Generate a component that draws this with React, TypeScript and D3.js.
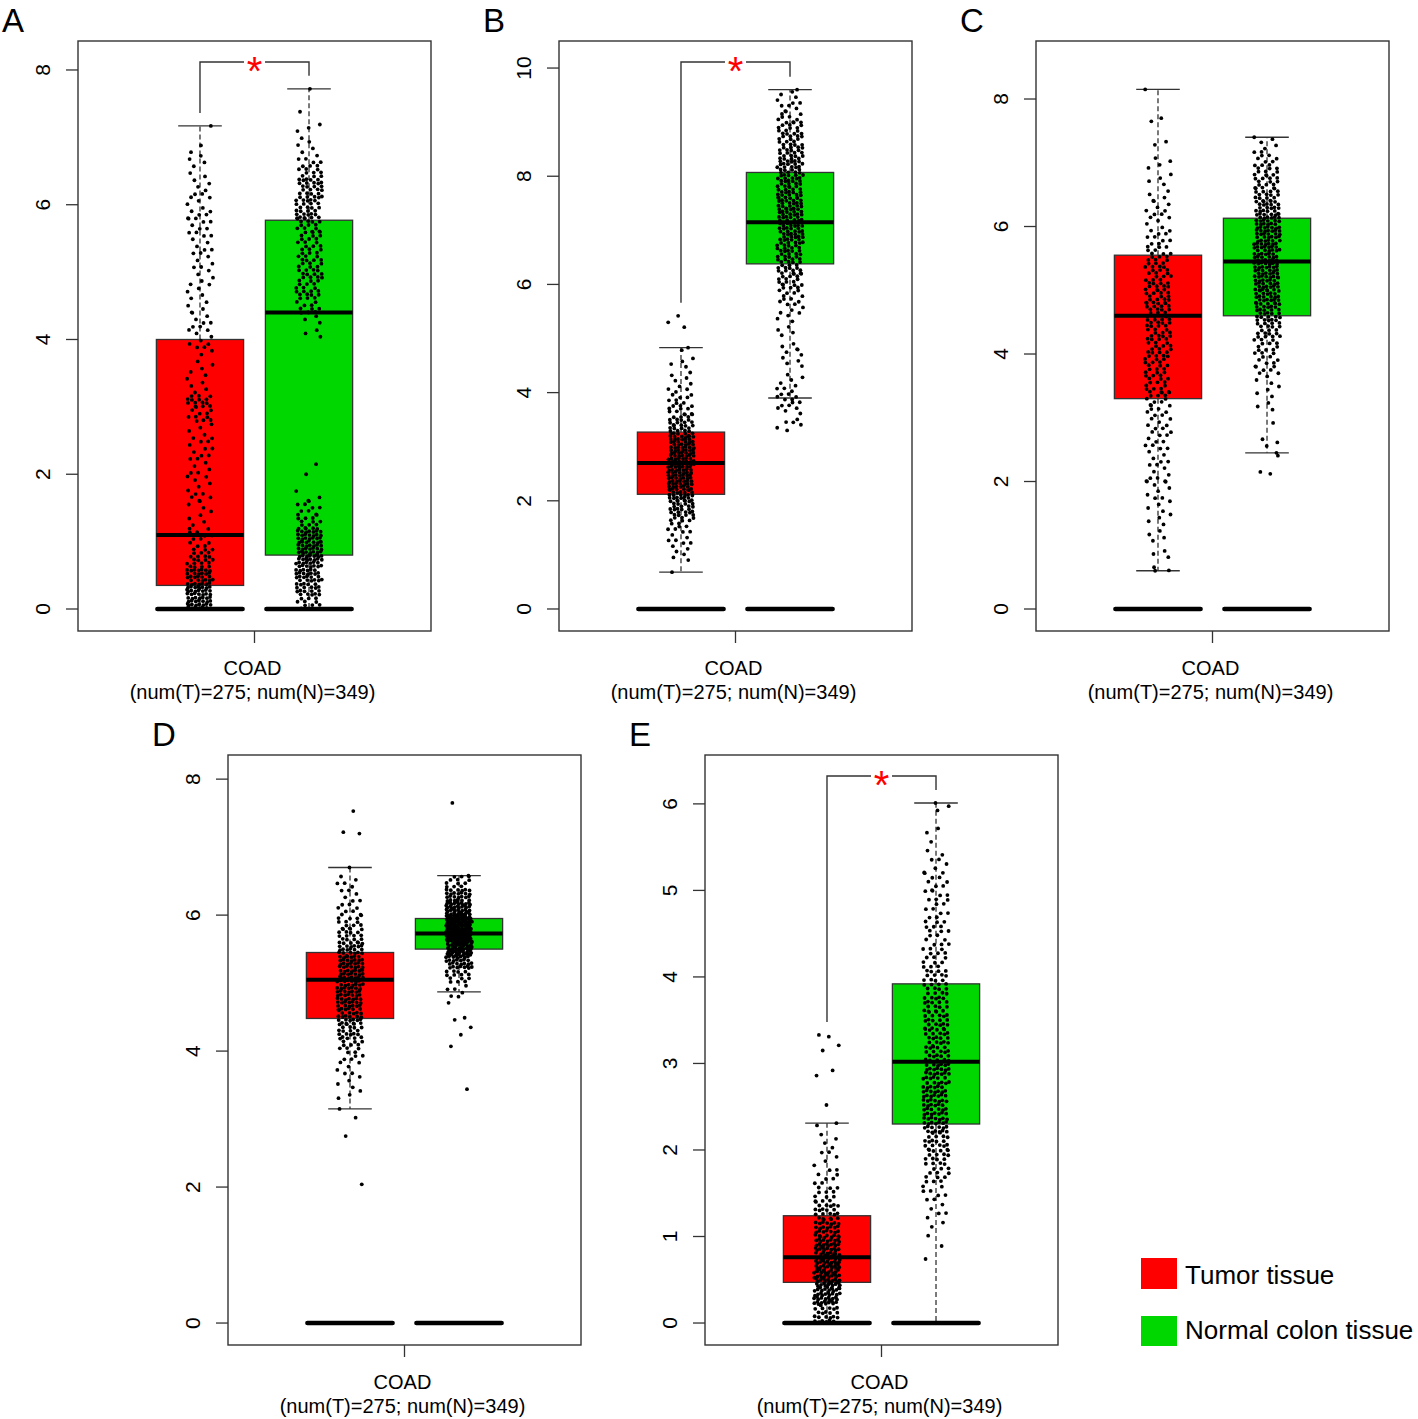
import React from 'react';
import * as d3 from 'd3';

// ---------- data ----------
const panelLetters = ['A', 'B', 'C', 'D', 'E'];
const groupNames = ['Tumor tissue', 'Normal colon tissue'];
const groupKeys = ['T', 'N'];
const xLabel1 = 'COAD';
const xLabel2 = '(num(T)=275; num(N)=349)';

const yTicksA = [0, 2, 4, 6, 8];
const yTicksB = [0, 2, 4, 6, 8, 10];
const yTicksC = [0, 2, 4, 6, 8];
const yTicksD = [0, 2, 4, 6, 8];
const yTicksE = [0, 1, 2, 3, 4, 5, 6];

// box stats: [lower whisker, q1, median, q3, upper whisker]
const statsA_T = [0, 0.35, 1.1, 4.0, 7.17];
const statsA_N = [0, 0.8, 4.4, 5.77, 7.72];
const statsB_T = [0.68, 2.12, 2.7, 3.27, 4.83];
const statsB_N = [3.9, 6.38, 7.15, 8.07, 9.6];
const statsC_T = [0.6, 3.3, 4.6, 5.55, 8.15];
const statsC_N = [2.45, 4.6, 5.45, 6.13, 7.4];
const statsD_T = [3.15, 4.48, 5.05, 5.45, 6.7];
const statsD_N = [4.87, 5.5, 5.73, 5.95, 6.58];
const statsE_T = [0, 0.47, 0.76, 1.24, 2.31];
const statsE_N = [0, 2.3, 3.02, 3.92, 6.01];

// point density: counts per 0.2-wide bin, starting at binStart
const binStep = 0.2;
const startA_T = 0;
const countsA_T = [30, 30, 25, 16, 10, 8, 4, 4, 6, 5, 5, 7, 6, 4, 10, 14, 4, 4, 3, 6, 6, 5, 4, 4, 5, 5, 6, 6, 7, 6, 6, 4, 3, 3];
const singlesA_T = [7.17, 6.88, 6.78];
const startA_N = 0;
const countsA_N = [12, 20, 25, 30, 30, 28, 12, 8, 2, 0, 0, 0, 0, 0, 0, 0, 0, 0, 0, 0, 3, 5, 10, 14, 14, 14, 12, 12, 14, 18, 18, 18, 12, 6, 4, 3];
const singlesA_N = [7.72, 7.38, 2.15, 2.0, 1.75];

const startB_T = 0.8;
const countsB_T = [2, 4, 6, 8, 14, 18, 22, 26, 28, 30, 28, 24, 18, 14, 10, 8, 5, 4, 3, 2];
const singlesB_T = [0.68, 4.83, 5.42, 5.3, 5.21];
const startB_N = 3.4;
const countsB_N = [3, 6, 8, 5, 3, 3, 4, 3, 3, 3, 5, 8, 10, 12, 14, 16, 18, 20, 20, 20, 20, 18, 18, 18, 18, 16, 14, 12, 8, 6, 4];
const singlesB_N = [9.6, 3.3, 3.35, 3.45];

const startC_T = 0.6;
const countsC_T = [2, 3, 3, 3, 4, 5, 5, 6, 6, 6, 7, 7, 8, 10, 11, 12, 13, 13, 14, 15, 15, 15, 14, 13, 12, 9, 7, 6, 5, 4, 3, 3, 2, 2];
const singlesC_T = [0.6, 8.15, 7.7, 7.65];
const startC_N = 2.4;
const countsC_N = [2, 2, 1, 2, 3, 4, 6, 8, 11, 14, 18, 20, 22, 24, 26, 26, 26, 26, 24, 20, 16, 14, 12, 8, 4];
const singlesC_N = [7.4, 2.12, 2.15, 2.45];

const startD_T = 3.2;
const countsD_T = [2, 4, 5, 8, 12, 18, 22, 26, 28, 30, 28, 24, 16, 12, 8, 6, 5];
const singlesD_T = [7.53, 7.22, 7.2, 6.7, 3.15, 3.02, 2.75, 2.04];
const startD_N = 4.8;
const countsD_N = [5, 14, 30, 56, 80, 70, 44, 26, 12];
const singlesD_N = [7.65, 6.58, 4.8, 4.71, 4.49, 4.46, 4.35, 4.24, 4.07, 3.44];

const startE_T = 0;
const countsE_T = [22, 40, 45, 45, 38, 28, 20, 12, 8, 5, 4, 1];
const singlesE_T = [2.31, 2.52, 2.86, 2.92, 3.15, 3.21, 3.31, 3.33];
const startE_N = 1.0;
const countsE_N = [3, 5, 8, 12, 16, 18, 26, 26, 26, 26, 20, 20, 20, 18, 16, 14, 12, 10, 9, 9, 8, 6, 3, 2, 2];
const singlesE_N = [6.01, 0.74, 0.89];

const significant = [true, true, false, false, true];

// ---------- layout ----------
const FONT = '"Liberation Sans", Arial, Helvetica, sans-serif';
const COLORS = ['#FF0000', '#00D700'];
const PW = 353;
const PH = 590;
const layout = [
  { left: 78, top: 41, yDom: [-0.3265, 8.43] },
  { left: 559, top: 41, yDom: [-0.407, 10.5] },
  { left: 1036, top: 41, yDom: [-0.345, 8.91] },
  { left: 228, top: 755, yDom: [-0.323, 8.355] },
  { left: 705, top: 755, yDom: [-0.254, 6.565] },
];

// R2 low-discrepancy layout of points inside each bin (value, horizontal jitter fraction)
const A1 = 0.7548776662;
const A2 = 0.5698402910;
type Pt = { v: number; f: number };

function expand(start: number, counts: number[], singles: number[], seed: number): Pt[] {
  const pts: Pt[] = [];
  let g = 0;
  counts.forEach((n, b) => {
    for (let k = 0; k < n; k++) {
      const fy = (0.5 + (k + b * 7 + seed) * A1) % 1;
      const fx = (0.5 + (k + b * 13 + seed) * A2) % 1;
      pts.push({ v: start + (b + fy) * binStep, f: fx });
      g++;
    }
  });
  singles.forEach((v, i) => pts.push({ v, f: (0.3 + (i + seed) * 0.6180339887) % 1 }));
  return pts;
}

const panels = [
  { ticks: yTicksA, stats: [statsA_T, statsA_N], pts: [expand(startA_T, countsA_T, singlesA_T, 1), expand(startA_N, countsA_N, singlesA_N, 2)] },
  { ticks: yTicksB, stats: [statsB_T, statsB_N], pts: [expand(startB_T, countsB_T, singlesB_T, 3), expand(startB_N, countsB_N, singlesB_N, 4)] },
  { ticks: yTicksC, stats: [statsC_T, statsC_N], pts: [expand(startC_T, countsC_T, singlesC_T, 5), expand(startC_N, countsC_N, singlesC_N, 6)] },
  { ticks: yTicksD, stats: [statsD_T, statsD_N], pts: [expand(startD_T, countsD_T, singlesD_T, 7), expand(startD_N, countsD_N, singlesD_N, 8)] },
  { ticks: yTicksE, stats: [statsE_T, statsE_N], pts: [expand(startE_T, countsE_T, singlesE_T, 9), expand(startE_N, countsE_N, singlesE_N, 10)] },
];

function Panel({ idx }: { idx: number }) {
  const L = layout[idx];
  const P = panels[idx];
  const y = d3.scaleLinear().domain(L.yDom).range([L.top + PH, L.top]);
  const x = d3.scalePoint<string>().domain(groupKeys).range([L.left, L.left + PW]).padding(1.119);
  const step = x.step();
  const bw = step * 0.8;
  const cw = step * 0.4;
  const cx = L.left + PW / 2;
  const stroke = '#333';
  const jit = 13;

  const els: React.ReactNode[] = [];
  groupKeys.forEach((g, gi) => {
    const xc = x(g) as number;
    const [lo, q1, md, q3, hi] = P.stats[gi];
    els.push(
      <g key={'w' + g}>
        <line x1={xc} x2={xc} y1={y(q3)} y2={y(hi)} stroke={stroke} strokeWidth={1.3} strokeDasharray="5,3" />
        <line x1={xc} x2={xc} y1={y(q1)} y2={y(lo)} stroke={stroke} strokeWidth={1.3} strokeDasharray="5,3" />
        <line x1={xc - cw / 2} x2={xc + cw / 2} y1={y(hi)} y2={y(hi)} stroke={stroke} strokeWidth={1.3} />
        <line x1={xc - cw / 2} x2={xc + cw / 2} y1={y(lo)} y2={y(lo)} stroke={stroke} strokeWidth={1.3} />
        <rect x={xc - bw / 2} y={y(q3)} width={bw} height={y(q1) - y(q3)} fill={COLORS[gi]} stroke={stroke} strokeWidth={1.3} />
        <line x1={xc - bw / 2} x2={xc + bw / 2} y1={y(md)} y2={y(md)} stroke="#000" strokeWidth={4} />
        <line x1={xc - bw / 2 + 1} x2={xc + bw / 2 - 1} y1={y(0)} y2={y(0)} stroke="#000" strokeWidth={4.5} strokeLinecap="round" />
      </g>
    );
  });
  groupKeys.forEach((g, gi) => {
    const xc = x(g) as number;
    const pts = P.pts[gi];
    els.push(
      <g key={'p' + g}>
        {pts.map((p, i) => (
          <circle key={i} cx={xc + (p.f - 0.5) * 2 * jit} cy={y(p.v)} r={1.9} fill="#000" />
        ))}
      </g>
    );
  });

  let bracket: React.ReactNode = null;
  if (significant[idx]) {
    const by = L.top + 21;
    const xT = x('T') as number;
    const xN = x('N') as number;
    const maxT = d3.max(P.pts[0], (p) => p.v) as number;
    const maxN = d3.max(P.pts[1], (p) => p.v) as number;
    bracket = (
      <g>
        <path d={`M${xT},${y(maxT) - 13}V${by}H${cx - 10.5}`} fill="none" stroke={stroke} strokeWidth={1.4} />
        <path d={`M${cx + 10.5},${by}H${xN}V${y(maxN) - 13}`} fill="none" stroke={stroke} strokeWidth={1.4} />
        <text x={cx} y={by + 23} textAnchor="middle" fontSize={40} fill="#FF0000" fontFamily={FONT}>*</text>
      </g>
    );
  }

  return (
    <g>
      <text x={L.left - 76} y={L.top - 9} fontSize={33} fontFamily={FONT} fill="#000">{panelLetters[idx]}</text>
      {els}
      {bracket}
      <rect x={L.left} y={L.top} width={PW} height={PH} fill="none" stroke={stroke} strokeWidth={1.4} />
      {P.ticks.map((t) => (
        <g key={t}>
          <line x1={L.left - 12} x2={L.left} y1={y(t)} y2={y(t)} stroke={stroke} strokeWidth={1.3} />
          <text transform={`translate(${L.left - 28},${y(t)}) rotate(-90)`} textAnchor="middle" fontSize={21} fontFamily={FONT} fill="#000">{t}</text>
        </g>
      ))}
      <line x1={cx} x2={cx} y1={L.top + PH} y2={L.top + PH + 12} stroke={stroke} strokeWidth={1.3} />
      <text x={cx - 2} y={L.top + PH + 44} textAnchor="middle" fontSize={20} fontFamily={FONT} fill="#000">{xLabel1}</text>
      <text x={cx - 2} y={L.top + PH + 68} textAnchor="middle" fontSize={20} fontFamily={FONT} fill="#000">{xLabel2}</text>
    </g>
  );
}

export default function App() {
  return (
    <svg width={1418} height={1419} style={{ position: 'absolute', left: 0, top: 0, background: '#fff' }}>
      <rect x={0} y={0} width={1418} height={1419} fill="#fff" />
      {panelLetters.map((_, i) => <Panel key={i} idx={i} />)}
      <rect x={1141} y={1258} width={36} height={31} fill={COLORS[0]} />
      <text x={1185} y={1284} fontSize={26} fontFamily={FONT} fill="#000">{groupNames[0]}</text>
      <rect x={1141} y={1316} width={36} height={30} fill={COLORS[1]} />
      <text x={1185} y={1339} fontSize={26} fontFamily={FONT} fill="#000">{groupNames[1]}</text>
    </svg>
  );
}
